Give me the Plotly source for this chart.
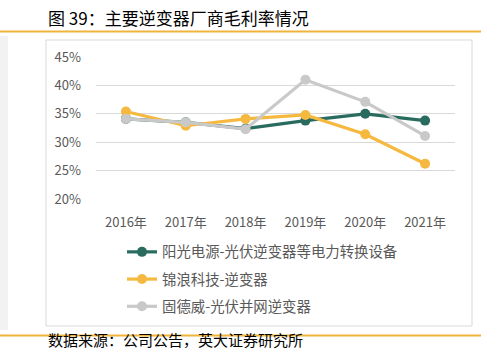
import plotly.graph_objects as go

years = ["2016年", "2017年", "2018年", "2019年", "2020年", "2021年"]
sungrow = [34.1, 33.5, 32.4, 33.8, 35.0, 33.8]
ginlong = [35.4, 32.9, 34.1, 34.8, 31.4, 26.2]
goodwe = [34.1, 33.5, 32.3, 41.0, 37.1, 31.1]
y_ticks = [20, 25, 30, 35, 40, 45]
y_labels = ["20%", "25%", "30%", "35%", "40%", "45%"]

names = ["阳光电源-光伏逆变器等电力转换设备", "锦浪科技-逆变器", "固德威-光伏并网逆变器"]
colors = ["#2a6b5f", "#f5b940", "#c9c9c9"]

W, H = 497, 352
L, R, T, B = 96, 455, 57, 199
FONT = "Noto Sans CJK SC"


def px(x):
    return (x - L) / (R - L)


def py(y):
    return (B - y) / (B - T)


fig = go.Figure()
for name, vals, c in zip(names, [sungrow, ginlong, goodwe], colors):
    fig.add_trace(go.Scatter(
        x=years, y=vals, name=name, mode="lines+markers",
        line=dict(color=c, width=3.2),
        marker=dict(color=c, size=10),
        legendgroup=name,
    ))

shapes = [
    dict(type="rect", xref="paper", yref="paper", x0=px(0), x1=px(8), y0=py(330), y1=py(36),
         fillcolor="#f2f2f2", line=dict(width=0), layer="below"),
    dict(type="rect", xref="paper", yref="paper", x0=px(46), x1=px(472), y0=py(326), y1=py(40),
         fillcolor="rgba(0,0,0,0)", line=dict(color="#d9d9d9", width=1), layer="below"),
    dict(type="line", xref="paper", yref="paper", x0=px(0), x1=px(481), y0=py(31.5), y1=py(31.5),
         line=dict(color="#f0b43c", width=2)),
    dict(type="line", xref="paper", yref="paper", x0=px(0), x1=px(481), y0=py(335.5), y1=py(335.5),
         line=dict(color="#f0b43c", width=2)),
]

annotations = [
    dict(text="图 39：主要逆变器厂商毛利率情况", xref="paper", yref="paper",
         x=px(46), y=py(18), xanchor="left", yanchor="middle", showarrow=False,
         font=dict(family=FONT, size=17, color="#000000")),
    dict(text="数据来源：公司公告，英大证券研究所", xref="paper", yref="paper",
         x=px(46), y=py(352), xanchor="left", yanchor="bottom", showarrow=False,
         font=dict(family=FONT, size=15, color="#000000")),
]

fig.update_layout(
    width=W, height=H,
    margin=dict(l=L, r=W - R, t=T, b=H - B, pad=0),
    paper_bgcolor="white", plot_bgcolor="white",
    font=dict(family=FONT, color="#595959", size=13),
    showlegend=True,
    legend=dict(x=px(122), y=py(236), xanchor="left", yanchor="top",
                font=dict(family=FONT, size=14.4, color="#595959"),
                traceorder="grouped", tracegroupgap=5.5,
                bgcolor="rgba(0,0,0,0)"),
    shapes=shapes,
    annotations=annotations,
    xaxis=dict(type="category", range=[-0.5, 5.5], showgrid=False, showline=False,
               zeroline=False, ticks="", ticklabelstandoff=14,
               tickfont=dict(size=13, color="#595959"), fixedrange=True),
    yaxis=dict(range=[20, 45], tickvals=y_ticks, ticktext=y_labels,
               showgrid=True, gridcolor="#d9d9d9", gridwidth=1, zeroline=False,
               showline=False, ticks="", ticklabelstandoff=14,
               tickfont=dict(size=13, color="#595959"), fixedrange=True),
)

fig.write_html("out.html")
